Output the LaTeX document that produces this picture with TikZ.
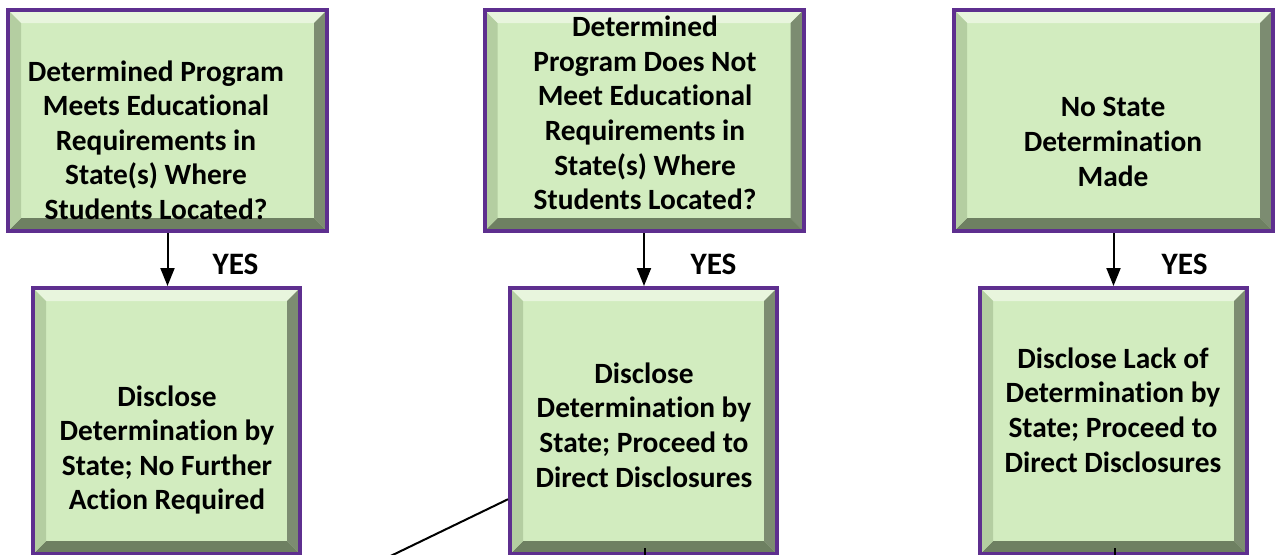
\documentclass[tikz,border=0pt]{standalone}
\usepackage{fontspec}
\setmainfont{Carlito}[Ligatures={NoCommon}]
\usetikzlibrary{arrows.meta}

\definecolor{boxpurple}{HTML}{5E2F8F}
\definecolor{boxface}{HTML}{D2ECBF}
\definecolor{beveltop}{HTML}{E8F5DD}
\definecolor{bevelleft}{HTML}{B4CEA1}
\definecolor{bevelright}{HTML}{7C8C71}
\definecolor{bevelbottom}{HTML}{6E8062}

\tikzset{
	bevelbox/.style={rectangle, draw=boxpurple, line width=2pt, fill=boxface, inner sep=0pt,
		path picture={
			\path (path picture bounding box.north west) coordinate (p1)
			(path picture bounding box.north east) coordinate (p2)
			(path picture bounding box.south east) coordinate (p3)
			(path picture bounding box.south west) coordinate (p4)
			([shift={(6.5pt,-6.5pt)}]p1) coordinate (q1)
			([shift={(-6.5pt,-6.5pt)}]p2) coordinate (q2)
			([shift={(-6.5pt,6.5pt)}]p3) coordinate (q3)
			([shift={(6.5pt,6.5pt)}]p4) coordinate (q4);
			\fill[beveltop] (p1) -- (p2) -- (q2) -- (q1) -- cycle;
			\fill[bevelright] (p2) -- (p3) -- (q3) -- (q2) -- cycle;
			\fill[bevelbottom] (p3) -- (p4) -- (q4) -- (q3) -- cycle;
			\fill[bevelleft] (p4) -- (p1) -- (q1) -- (q4) -- cycle;
		}},
	topbox/.style={bevelbox, minimum width=159.5pt, minimum height=110.5pt},
	lowbox/.style={bevelbox, minimum width=133.5pt, minimum height=133pt},
	boxtext/.style={align=center, inner sep=0pt, font=\fontsize{14.7}{17.3}\selectfont\bfseries},
	yes/.style={inner sep=0pt, font=\fontsize{15.6}{18}\selectfont\bfseries},
	flow/.style={line width=1pt, -{Triangle[width=7pt,length=9pt]}},
}

\begin{document}
\begin{tikzpicture}[x=0.5pt, y=-0.5pt]
	\useasboundingbox (0,0) rectangle (1278,554);
	\begin{scope}
		\clip (0,0) rectangle (1278,554);
		
		% question boxes
		\node[topbox] (meets) at (167.5,120.5) {};
		\node[topbox] (notmeets) at (644,120.5) {};
		\node[topbox] (nodet) at (1113.5,120.5) {};
		
		% disclosure boxes
		\node[lowbox] (disclose1) at (166.5,421) {};
		\node[lowbox] (disclose2) at (643.5,421) {};
		\node[lowbox] (disclose3) at (1113.5,421) {};
		
		% texts
		\node[boxtext] (meetstext) at (156,140) {Determined Program\\Meets Educational\\Requirements in\\State(s) Where\\Students Located?};
		\node[boxtext] (notmeetstext) at (645,113) {Determined\\Program Does Not\\Meet Educational\\Requirements in\\State(s) Where\\Students Located?};
		\node[boxtext] (nodettext) at (1113,142) {No State\\Determination\\Made};
		\node[boxtext] (disclose1text) at (167,450) {Disclose\\Determination by\\State; No Further\\Action Required};
		\node[boxtext] (disclose2text) at (644,425) {Disclose\\Determination by\\State; Proceed to\\Direct Disclosures};
		\node[boxtext] (disclose3text) at (1113,410) {Disclose Lack of\\Determination by\\State; Proceed to\\Direct Disclosures};
		
		% yes arrows
		\draw[flow] (meets.south) -- (meets.south |- disclose1.north);
		\draw[flow] (notmeets.south) -- (notmeets.south |- disclose2.north);
		\draw[flow] (nodet.south) -- (nodet.south |- disclose3.north);
		\node[yes] (yes1) at (235.5,264) {YES};
		\node[yes] (yes2) at (713.5,264) {YES};
		\node[yes] (yes3) at (1184.5,264) {YES};
		
		% lines leaving the page
		\coordinate (offpage) at (374,564);
		\coordinate (next2) at (645,580);
		\coordinate (next3) at (1115,580);
		\draw[line width=1pt] (disclose2.210) -- (offpage);
		\draw[line width=1pt, shorten <=-4pt] (disclose2.south -| next2) -- (next2);
		\draw[line width=1pt, shorten <=-4pt] (disclose3.south -| next3) -- (next3);
	\end{scope}
\end{tikzpicture}
\end{document}
